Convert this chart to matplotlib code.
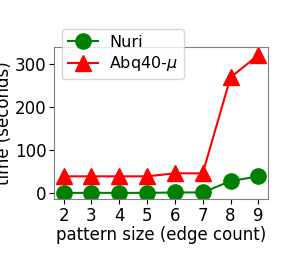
import matplotlib
matplotlib.use('Agg')
import matplotlib.pyplot as plt

# pattern sizes and runtimes
sizes = [2, 3, 4, 5, 6, 7, 8, 9]
nuri = [0.5, 0.5, 0.5, 0.5, 1.5, 1.5, 28, 39]
abq = [39, 39, 39, 39, 46, 46, 269, 321]

plt.rcParams['font.size'] = 12

fig = plt.figure(figsize=(2.87, 2.68), dpi=100)
ax = fig.add_axes([0.188, 0.257, 0.746, 0.568])

ax.plot(sizes, nuri, color='green', marker='o', markersize=11, linewidth=1.5, label='Nuri')
ax.plot(sizes, abq, color='red', marker='^', markersize=11, linewidth=1.5, label=r'Abq40-$\mu$')

ax.set_xticks(sizes)
ax.set_ylim(-14, 340)
ax.set_yticks([0, 100, 200, 300])
ax.set_xlabel('pattern size (edge count)', labelpad=1)
ax.set_ylabel('time (seconds)', labelpad=1)
ax.tick_params(pad=2)
for s in ax.spines.values():
    s.set_color('gray')

fig.legend(loc='upper left', bbox_to_anchor=(0.216, 0.892), borderaxespad=0,
           borderpad=0.35, fontsize=11.5, handlelength=1.9, labelspacing=0.3,
           handletextpad=0.7)

fig.savefig('out.png', dpi=100)
